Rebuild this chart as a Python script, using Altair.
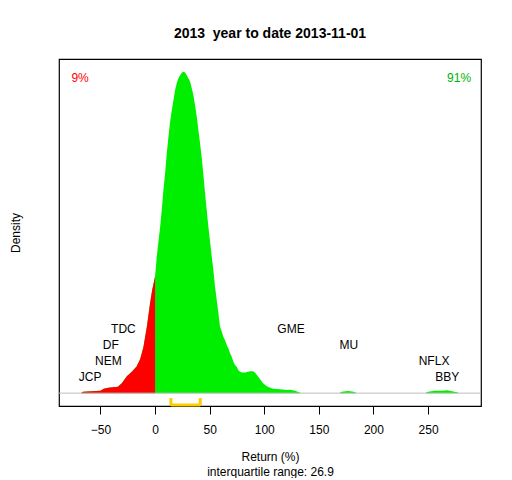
import altair as alt
import pandas as pd

# Density curve of YTD returns (x in %, density in relative units, peak = 321.3)
ret = [-68, -66, -50, -47, -43, -34, -30.5, -25.9, -21.3, -16.8, -13.7, -10.7, -7.6, -4.6, -2.7, -0.9, 0,
       1.5, 3.0, 4.6, 6.1, 7.6, 9.2, 10.7, 12.2, 13.7, 15.3, 16.8, 18.3, 19.8, 21.4, 22.9, 24.4, 25.9,
       27.5, 29.0, 30.5, 32.1, 33.6, 35.1, 36.6, 38.2, 39.7, 41.2, 42.8, 44.3, 45.8, 47.3, 48.8, 50.4,
       51.9, 53.4, 54.9, 56.5, 58.0, 59.5, 61.1, 62.5, 64.1, 65.7, 67.1, 68.7, 70.2, 71.7, 73.3, 74.8,
       76.3, 77.8, 79.4, 82.4, 87.0, 90.0, 91.6, 93.4, 96.2, 98.9, 102.3, 105.3, 108.1, 114.5, 120.9,
       123.6, 128.2, 132.8, 134.6, 168.5, 171, 176.6, 182, 185, 247, 250, 256.4, 262.8, 267.4, 272,
       276.5, 278.4]
dens = [0, 1.5, 2.5, 4.5, 5.5, 6.5, 10, 17, 21.5, 27, 34, 46, 66, 90, 103, 112, 117,
        136, 151, 166, 183, 203, 220, 240, 256, 271, 283, 293, 303, 310, 315, 318, 320.3, 321.3,
        320.7, 318, 315, 311.3, 305, 298, 288, 276.3, 263, 249.7, 234.7, 218, 199.7, 183, 166.3, 151.3,
        136.3, 123, 106.3, 93, 80, 66.3, 61.3, 56.3, 53, 48, 45, 40, 36.3, 31.3, 28, 26.3,
        23, 21.3, 20.7, 20.7, 22, 22, 20.5, 18, 14, 10, 7, 5.3, 4.5, 3.8, 3.2,
        3.5, 2.5, 0.5, 0, 0, 1.5, 2.2, 1.5, 0, 0, 1.5, 2.5, 2.5, 3, 2,
        1, 0]

tickers = ["JCP", "NEM", "DF", "TDC", "GME", "MU", "NFLX", "BBY"]
tick_x = [-59.5, -42.8, -40.6, -29.0, 124.5, 177.5, 255.5, 267.6]
tick_lvl = [0.05, 0.10, 0.15, 0.20, 0.20, 0.15, 0.10, 0.05]

pct_text = ["9%", "91%"]
pct_x = [-68.7, 278.4]
pct_col = ["#FF0000", "#00B000"]

q1, q3 = 14.5, 41.4
xticks = [-50, 0, 50, 100, 150, 200, 250]

dmax = max(dens)
W, H = 422, 347

df = pd.DataFrame({"ret": ret, "dens": dens})
red = df[df.ret <= 0]
lab = pd.DataFrame({"ret": tick_x, "dens": [l * dmax for l in tick_lvl], "t": tickers})
pct = pd.DataFrame({"ret": pct_x, "dens": [0.98 * dmax] * 2, "t": pct_text, "c": pct_col})
iqr = pd.DataFrame({"a": [q1], "b": [q3]})
iqr_v = pd.DataFrame({"a": [q1, q3]})

xs = alt.Scale(domain=[-88, 298.5], nice=False, zero=False)
ys = alt.Scale(domain=[-0.04 * dmax, 1.04 * dmax], nice=False, zero=False)

xaxis = alt.Axis(values=xticks, tickSize=8, tickColor="black", labelFontSize=12, labelColor="black",
                 labelFont="Liberation Sans", domain=False, grid=False, labelPadding=10,
                 title=["Return (%)", "interquartile range: 26.9"], titleFont="Liberation Sans",
                 titleFontSize=12, titleFontWeight="normal", titleColor="black", titlePadding=16,
                 titleLineHeight=15)
yaxis = alt.Axis(ticks=False, labels=False, domain=False, grid=False, title="Density",
                 titleFont="Liberation Sans", titleFontSize=12, titleFontWeight="normal",
                 titleColor="black", titlePadding=37)

base_green = alt.Chart(df).mark_area(color="#00EE00", interpolate="linear").encode(
    x=alt.X("ret:Q", scale=xs, axis=xaxis),
    y=alt.Y("dens:Q", scale=ys, axis=yaxis),
    y2=alt.datum(0),
)
base_red = alt.Chart(red).mark_area(color="#FF0000", interpolate="linear").encode(
    x=alt.X("ret:Q", scale=xs),
    y=alt.Y("dens:Q", scale=ys),
    y2=alt.datum(0),
)
zero_line = alt.Chart(pd.DataFrame({"d": [0]})).mark_rule(color="#BEBEBE", strokeWidth=1).encode(
    y=alt.Y("d:Q", scale=ys), x=alt.value(0), x2=alt.value(W)
)
labels = alt.Chart(lab).mark_text(fontSize=12, font="Liberation Sans", color="black").encode(
    x=alt.X("ret:Q", scale=xs), y=alt.Y("dens:Q", scale=ys), text="t:N"
)
pcts = alt.Chart(pct).mark_text(fontSize=12, font="Liberation Sans").encode(
    x=alt.X("ret:Q", scale=xs), y=alt.Y("dens:Q", scale=ys), text="t:N",
    color=alt.Color("c:N", scale=None)
)
br_h = alt.Chart(iqr).mark_rule(color="#FFCC00", strokeWidth=3).encode(
    x=alt.X("a:Q", scale=xs), x2="b:Q", y=alt.value(H - 1)
)
br_v = alt.Chart(iqr_v).mark_rule(color="#FFCC00", strokeWidth=3).encode(
    x=alt.X("a:Q", scale=xs), y=alt.value(H - 1), y2=alt.value(H - 8)
)

chart = alt.layer(base_green, base_red, zero_line, labels, pcts, br_h, br_v).properties(
    width=W, height=H,
    title=alt.TitleParams("2013\u00a0 year to date 2013-11-01", fontSize=14, font="Liberation Sans",
                          fontWeight="bold", color="black", offset=18),
    autosize=alt.AutoSizeParams(type="none"),
    padding={"left": 51, "top": 51, "right": 22, "bottom": 72},
).configure_view(stroke="black", strokeWidth=1.2)

chart.save("out.html", embed_options={"renderer": "svg", "actions": False})
